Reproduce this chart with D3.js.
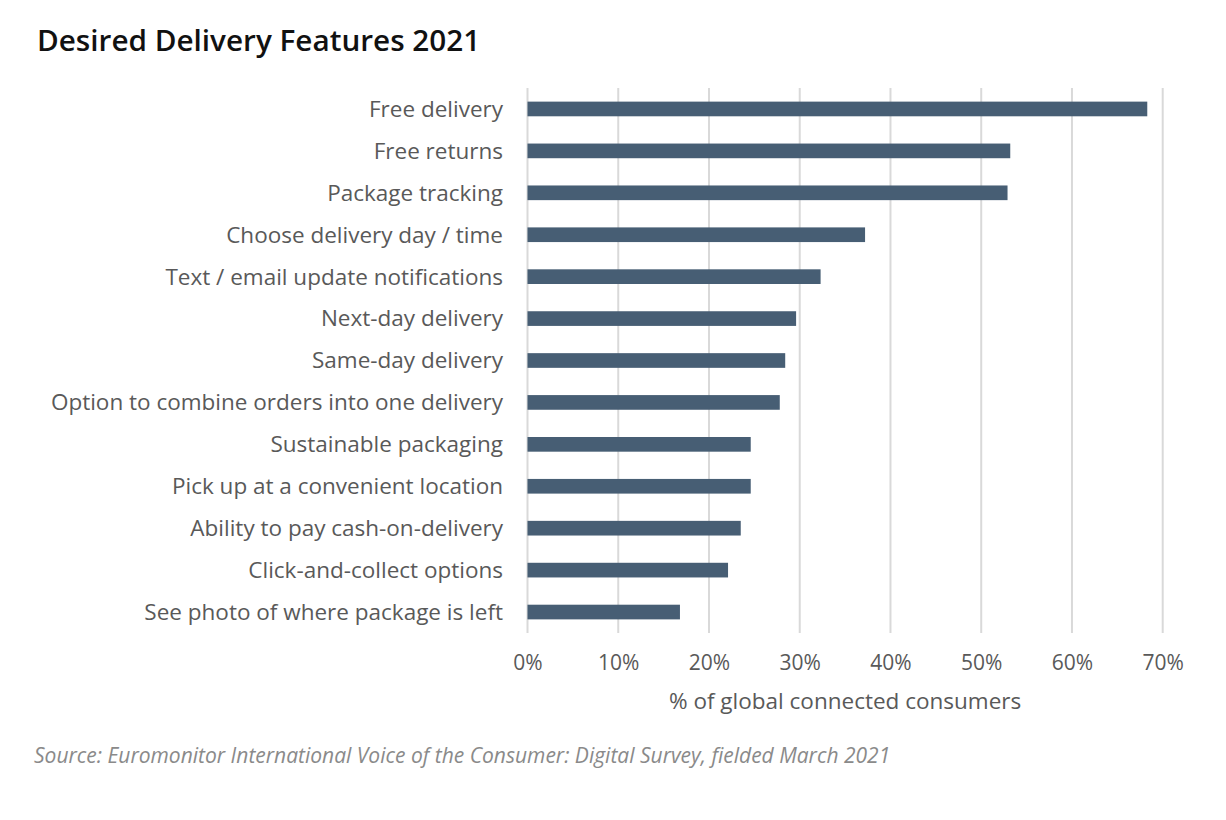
<!DOCTYPE html>
<html>
<head>
<meta charset="utf-8">
<script src="https://cdn.jsdelivr.net/npm/d3@7"></script>
<style>
  html, body { margin: 0; padding: 0; background: #fff; }
  svg { display: block; }
</style>
</head>
<body>
<svg id="chart" width="1226" height="820"></svg>
<script>
const title = "Desired Delivery Features 2021";
const categories = [
  "Free delivery",
  "Free returns",
  "Package tracking",
  "Choose delivery day / time",
  "Text / email update notifications",
  "Next-day delivery",
  "Same-day delivery",
  "Option to combine orders into one delivery",
  "Sustainable packaging",
  "Pick up at a convenient location",
  "Ability to pay cash-on-delivery",
  "Click-and-collect options",
  "See photo of where package is left"
];
const values = [68.3, 53.2, 52.9, 37.2, 32.3, 29.6, 28.4, 27.8, 24.6, 24.6, 23.5, 22.1, 16.8];
const xTicks = [0, 10, 20, 30, 40, 50, 60, 70];
const xAxisTitle = "% of global connected consumers";
const source = "Source: Euromonitor International Voice of the Consumer: Digital Survey, fielded March 2021";

(function () {
const svg = d3.select("#chart");
const pLeft = 527.5, pRight = 1162.7, pTop = 88, pBottom = 633;

const x = d3.scaleLinear().domain([0, 70]).range([pLeft, pRight]);
const y = d3.scaleBand().domain(categories).range([pTop, pBottom]).paddingInner(0.65).paddingOuter(0.325);

// title
svg.append("text").attr("x", 37).attr("y", 51)
  .attr("font-family", "'Open Sans', sans-serif").attr("font-weight", 600)
  .attr("font-size", 29.7).attr("fill", "#111").text(title);

// gridlines
svg.append("g").selectAll("line").data(xTicks).join("line")
  .attr("x1", d => x(d)).attr("x2", d => x(d))
  .attr("y1", pTop).attr("y2", pBottom)
  .attr("stroke", "#d9d9d9").attr("stroke-width", 2);

// bars
svg.append("g").selectAll("rect").data(values).join("rect")
  .attr("x", x(0))
  .attr("y", (d, i) => y(categories[i]))
  .attr("width", d => x(d) - x(0))
  .attr("height", y.bandwidth())
  .attr("fill", "#475e74");

// y labels
const yAxis = d3.axisLeft(y).tickSize(0).tickPadding(0);
const gy = svg.append("g").attr("transform", `translate(503,0)`).call(yAxis);
gy.select(".domain").remove();
gy.selectAll("text").attr("font-family", "'Open Sans', sans-serif").attr("font-size", 22.5)
  .attr("fill", "#595959").attr("dy", "0.35em");

// x axis
const xAxis = d3.axisBottom(x).tickValues(xTicks).tickFormat(d => d + "%").tickSize(0).tickPadding(0);
const gx = svg.append("g").attr("transform", `translate(0,663)`).call(xAxis);
gx.select(".domain").remove();
gx.selectAll("text").attr("font-family", "'Open Sans', sans-serif").attr("font-size", 21)
  .attr("fill", "#595959").attr("dy", "0.35em");

svg.append("text").attr("x", (pLeft + pRight) / 2).attr("y", 709)
  .attr("text-anchor", "middle")
  .attr("font-family", "'Open Sans', sans-serif").attr("font-size", 22.5)
  .attr("fill", "#595959").text(xAxisTitle);

svg.append("text").attr("x", 34).attr("y", 763)
  .attr("font-family", "'Open Sans', sans-serif").attr("font-style", "italic")
  .attr("font-size", 21).attr("fill", "#8a8a8a").text(source);
})();
</script>
</body>
</html>
